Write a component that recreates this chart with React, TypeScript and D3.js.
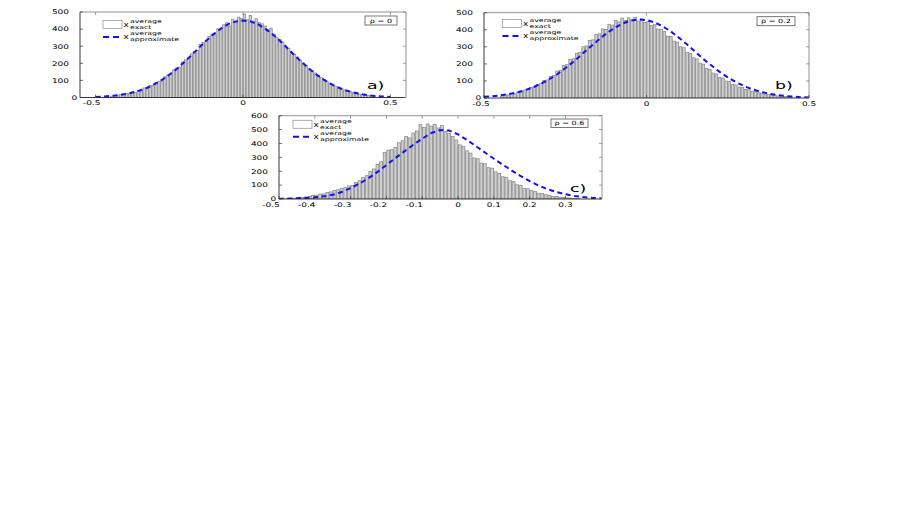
import React from "react";
import * as d3 from "d3";

// histogram counts, bins 0.01 wide
const binWidth = 0.01;

const histStartA = -0.45;
const histA = [
  8, 12, 10, 17, 16, 24, 22, 33, 30, 42, 40, 56, 53, 70, 69, 88, 95, 98, 121, 131,
  134, 161, 172, 178, 207, 221, 226, 255, 270, 276, 310, 322, 327, 356, 371, 368, 402, 396, 425, 437,
  418, 458, 441, 470, 462,
  488, 455, 479, 447, 460, 438, 431, 418, 396, 405, 371, 352, 340, 324, 301, 288, 262, 252, 236, 218,
  201, 188, 170, 155, 143, 127, 118, 105, 94, 84, 72, 66, 55, 51, 45, 37, 34, 27, 26, 20,
  17, 15, 12, 10, 8,
];

const histStartB = -0.45;
const histB = [
  12, 19, 18, 26, 25, 35, 36, 47, 49, 62, 64, 80, 84, 102, 106, 127, 131, 158, 162, 190,
  195, 226, 230, 262, 268, 300, 305, 337, 341, 372, 376, 405, 402, 432, 427, 455, 446, 468, 455, 470,
  458, 472, 451, 463, 442, 448, 425, 430, 404, 402, 390, 362, 360, 333, 328, 300, 295, 268, 262, 236,
  229, 204, 198, 174, 168, 146, 141, 121, 117, 99, 96, 80, 77, 64, 61, 50, 48, 39, 37, 30,
  28, 22, 21, 16, 16, 12, 11, 9, 8, 6,
];

const histStartC = -0.48;
const histC = [
  3, 5, 6, 9, 12, 15, 18, 25, 27, 35, 37, 47, 51, 61, 66, 77, 81, 94, 98, 120,
  132, 155, 168, 198, 216, 249, 268, 335, 352, 355, 372, 405, 420, 450, 440, 475, 490, 535, 515, 540,
  525, 538, 512, 528, 485, 472, 450, 425, 390, 380, 347, 330, 296, 290, 258, 254, 226, 222, 196, 184,
  160, 156, 131, 125, 102, 98, 77, 73, 60, 54, 42, 40, 31, 27, 19, 18, 13, 11, 8, 6,
  4, 3,
];

// approximate curve, sampled every 0.025 from -0.5
const curveStep = 0.025;
const curveStart = -0.5;
const curveA = [
  3, 6, 9, 13, 20, 29, 41, 57, 78, 103, 133, 167, 206, 247, 290, 332, 370, 403, 429, 445,
  450, 445, 429, 403, 370, 332, 290, 247, 206, 167, 133, 103, 78, 57, 41, 29, 20, 13, 9, 6, 3,
];
const curveB = [
  7, 10, 15, 23, 32, 45, 62, 83, 109, 139, 174, 213, 254, 296, 337, 376, 409, 435, 453, 460,
  457, 443, 420, 390, 353, 313, 271, 228, 190, 153, 121, 93, 70, 52, 37, 26, 18, 12, 8, 5, 3,
];
const curveC = [
  2, 3, 5, 8, 12, 19, 30, 50, 78, 112, 150, 195, 245, 295, 343, 390, 435, 475, 497, 493,
  465, 425, 380, 335, 290, 247, 205, 165, 128, 97, 70, 50, 34, 22, 14, 8, 5,
];

const xTicksAB = [-0.5, 0, 0.5];
const xTicksC = [-0.5, -0.4, -0.3, -0.2, -0.1, 0, 0.1, 0.2, 0.3];
const yTicksAB = [0, 100, 200, 300, 400, 500];
const yTicksC = [0, 100, 200, 300, 400, 500, 600];
const rhoLabels = ["\u03c1 = 0", "\u03c1 = 0.2", "\u03c1 = 0.6"];
const panelTags = ["a)", "b)", "c)"];

const FONT = "'DejaVu Sans', sans-serif";
const SX = 1.4; // text in the picture is stretched sideways

function Txt({ x, y, size, anchor = "start", sx = SX, fill = "#000", children }: any) {
  return (
    <text
      transform={`translate(${x},${y}) scale(${sx},1)`}
      fontSize={size}
      textAnchor={anchor}
      fontFamily={FONT}
      fill={fill}
    >
      {children}
    </text>
  );
}

const panels = [
  {
    left: 80, right: 406, top: 12, bottom: 97.5,
    xDomain: [-0.553, 0.553], yMax: 500,
    hist: histA, histStart: histStartA, curve: curveA,
    xTicks: xTicksAB, yTicks: yTicksAB, negShift: -4,
    legend: [103, 20.5], rhoBox: [365, 16, 32, 9], tag: [367, 88.5],
  },
  {
    left: 484, right: 809, top: 12.7, bottom: 98,
    xDomain: [-0.5, 0.5], yMax: 500,
    hist: histB, histStart: histStartB, curve: curveB,
    xTicks: xTicksAB, yTicks: yTicksAB, negShift: -3,
    legend: [502.5, 19.5], rhoBox: [757, 16.7, 38, 9], tag: [775, 88.5],
  },
  {
    left: 279, right: 602, top: 115.7, bottom: 199,
    xDomain: [-0.5, 0.402], yMax: 600,
    hist: histC, histStart: histStartC, curve: curveC,
    xTicks: xTicksC, yTicks: yTicksC, negShift: -8,
    legend: [293, 120.3], rhoBox: [551, 119, 37, 8.5], tag: [570, 192],
  },
];

function Panel({ p, idx }: any) {
  const xs = d3.scaleLinear().domain(p.xDomain).range([p.left, p.right]);
  const ys = d3.scaleLinear().domain([0, p.yMax]).range([p.bottom, p.top]);
  const clipId = `clip${idx}`;

  const bins = p.hist.map((c: number, i: number) => {
    const x0 = p.histStart + i * binWidth;
    return { x0, x1: x0 + binWidth, c };
  });
  const pts = p.curve.map((v: number, i: number) => [curveStart + i * curveStep, v]);
  const line = d3.line<number[]>().x((d) => xs(d[0])).y((d) => ys(d[1]));

  const [lx, ly] = p.legend;
  const [rx, ry, rw, rh] = p.rhoBox;

  return (
    <g>
      <defs>
        <clipPath id={clipId}>
          <rect x={p.left} y={p.top} width={p.right - p.left} height={p.bottom - p.top} />
        </clipPath>
      </defs>
      <g clipPath={`url(#${clipId})`}>
        {bins.map((b: any, i: number) => {
          const w = xs(b.x1) - xs(b.x0);
          return (
            <rect
              key={i}
              x={xs(b.x0) + w * 0.1}
              y={ys(b.c)}
              width={w * 0.8}
              height={ys(0) - ys(b.c)}
              fill="#d0d0d0"
              stroke="#8c8c8c"
              strokeWidth={0.8}
            />
          );
        })}
        <path d={line(pts) || ""} fill="none" stroke="#1010ff" strokeWidth={2} strokeDasharray="5 3.5" />
      </g>

      {/* box */}
      <line x1={p.left} x2={p.right} y1={p.top} y2={p.top} stroke="#777" strokeWidth={0.8} />
      <line x1={p.right} x2={p.right} y1={p.top} y2={p.bottom} stroke="#777" strokeWidth={0.8} />
      <line x1={p.left} x2={p.left} y1={p.top} y2={p.bottom} stroke="#222" strokeWidth={0.9} />
      <line x1={p.left} x2={p.right} y1={p.bottom} y2={p.bottom} stroke="#222" strokeWidth={0.9} />

      {p.yTicks.map((v: number) => {
        const label = String(v);
        return (
          <g key={`y${v}`}>
            <line x1={p.left} x2={p.left + 3} y1={ys(v)} y2={ys(v)} stroke="#333" strokeWidth={0.7} />
            <line x1={p.right - 3} x2={p.right} y1={ys(v)} y2={ys(v)} stroke="#777" strokeWidth={0.7} />
            <Txt x={p.left - 2.7 - 4.15 * (label.length - 1)} y={ys(v) + 2.3} size={6.4} anchor="end">
              {label}
            </Txt>
          </g>
        );
      })}
      {p.xTicks.map((v: number) => (
        <g key={`x${v}`}>
          <line x1={xs(v)} x2={xs(v)} y1={p.bottom} y2={p.bottom - 3} stroke="#333" strokeWidth={0.7} />
          <line x1={xs(v)} x2={xs(v)} y1={p.top} y2={p.top + 3} stroke="#777" strokeWidth={0.7} />
          <Txt x={xs(v) + (v < 0 ? p.negShift : 0)} y={p.bottom + 7.6} size={6.4} anchor="middle">
            {String(v)}
          </Txt>
        </g>
      ))}

      {/* legend */}
      <rect x={lx} y={ly} width={19} height={8} fill="#fff" stroke="#9a9a9a" strokeWidth={0.8} />
      <Txt x={lx + 20.5} y={ly + 6.6} size={7.2} sx={1.25}>x</Txt>
      <Txt x={lx + 27} y={ly + 2.6} size={5.2} sx={1.5}>average</Txt>
      <Txt x={lx + 27} y={ly + 8.7} size={5.2} sx={1.5}>exact</Txt>
      <line x1={lx} x2={lx + 19} y1={ly + 16.5} y2={ly + 16.5} stroke="#1010ff" strokeWidth={2} strokeDasharray="6 4" />
      <Txt x={lx + 20.5} y={ly + 18.6} size={7.2} sx={1.25}>x</Txt>
      <Txt x={lx + 27} y={ly + 14.8} size={5.2} sx={1.5}>average</Txt>
      <Txt x={lx + 27} y={ly + 20.9} size={5.2} sx={1.5}>approximate</Txt>

      {/* rho box */}
      <rect x={rx} y={ry} width={rw} height={rh} fill="#fff" stroke="#555" strokeWidth={0.8} />
      <Txt x={rx + rw / 2} y={ry + rh - 2.3} size={5.8} anchor="middle">
        {rhoLabels[idx]}
      </Txt>

      <Txt x={p.tag[0]} y={p.tag[1]} size={10.5} sx={1.65}>
        {panelTags[idx]}
      </Txt>
    </g>
  );
}

export default function App() {
  return (
    <svg
      width={906}
      height={519}
      style={{ position: "absolute", left: 0, top: 0, background: "#fff" }}
    >
      <rect x={0} y={0} width={906} height={519} fill="#fff" />
      {panels.map((p, i) => (
        <Panel key={i} p={p} idx={i} />
      ))}
    </svg>
  );
}
